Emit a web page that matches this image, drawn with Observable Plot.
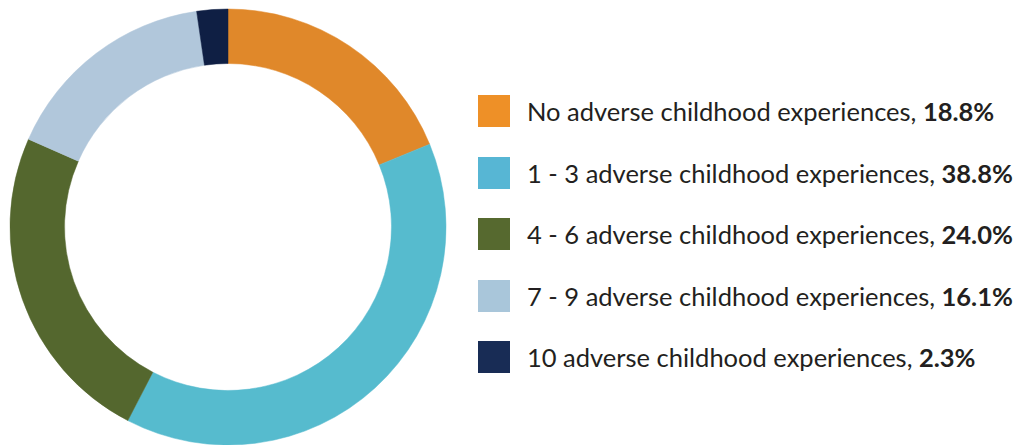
<!DOCTYPE html>
<html>
<head>
<meta charset="utf-8">
<script src="https://cdn.jsdelivr.net/npm/d3@7"></script>
<script src="https://cdn.jsdelivr.net/npm/@observablehq/plot@0.6"></script>
<style>
  html, body { margin: 0; padding: 0; background: #fff; }
  #wrap { position: relative; width: 1024px; height: 445px; overflow: hidden; font-family: Lato, "Open Sans", sans-serif; }
  #chart { position: absolute; left: 0; top: 0; }
  #legend { position: absolute; left: 478px; top: 95px; }
  .row { display: flex; align-items: center; height: 32px; margin-bottom: 29.5px; }
  .sw { width: 32px; height: 32px; flex: none; }
  .lbl { margin-left: 17px; font-size: 25.5px; color: #231f20; white-space: nowrap; }
  .lbl b { font-weight: 700; }
</style>
</head>
<body>
<div id="wrap"><div id="chart"></div><div id="legend"></div></div>
<script>
const categories = [
  "No adverse childhood experiences",
  "1 - 3 adverse childhood experiences",
  "4 - 6 adverse childhood experiences",
  "7 - 9 adverse childhood experiences",
  "10 adverse childhood experiences"
];
const shares = [18.8, 38.8, 24.0, 16.1, 2.3];
const shareLabels = ["18.8%", "38.8%", "24.0%", "16.1%", "2.3%"];
const sliceColors = ["#e0882a", "#56bbce", "#54672e", "#b1c7db", "#0f1f44"];
const legendColors = ["#ee9027", "#57b6d4", "#56692f", "#a9c6da", "#182c55"];

const data = categories.map((c, i) => ({category: c, share: shares[i], label: shareLabels[i]}));

const color = Plot.scale({color: {type: "ordinal", domain: categories, range: sliceColors}});
const legendColor = Plot.scale({color: {type: "ordinal", domain: categories, range: legendColors}});

function donut(index, scales, values, dimensions) {
  const cx = 228, cy = 227, outer = 218, inner = 163.5;
  const pie = d3.pie().sort(null).value(d => d.share);
  const arc = d3.arc().innerRadius(inner).outerRadius(outer);
  const g = d3.create("svg:g").attr("transform", `translate(${cx},${cy})`);
  g.selectAll("path")
    .data(pie(data))
    .join("path")
    .attr("d", arc)
    .attr("fill", d => color.apply(d.data.category))
    .attr("stroke", d => color.apply(d.data.category))
    .attr("stroke-width", 0.5);
  return g.node();
}

const plot = Plot.plot({
  width: 460,
  height: 445,
  margin: 0,
  x: {axis: null, domain: [0, 1]},
  y: {axis: null, domain: [0, 1]},
  marks: [donut]
});
document.getElementById("chart").appendChild(plot);

const legend = d3.select("#legend");
data.forEach(d => {
  const row = legend.append("div").attr("class", "row");
  row.append("div").attr("class", "sw").style("background", legendColor.apply(d.category));
  const l = row.append("div").attr("class", "lbl");
  l.append("span").text(d.category + ", ");
  l.append("b").text(d.label);
});
</script>
</body>
</html>
